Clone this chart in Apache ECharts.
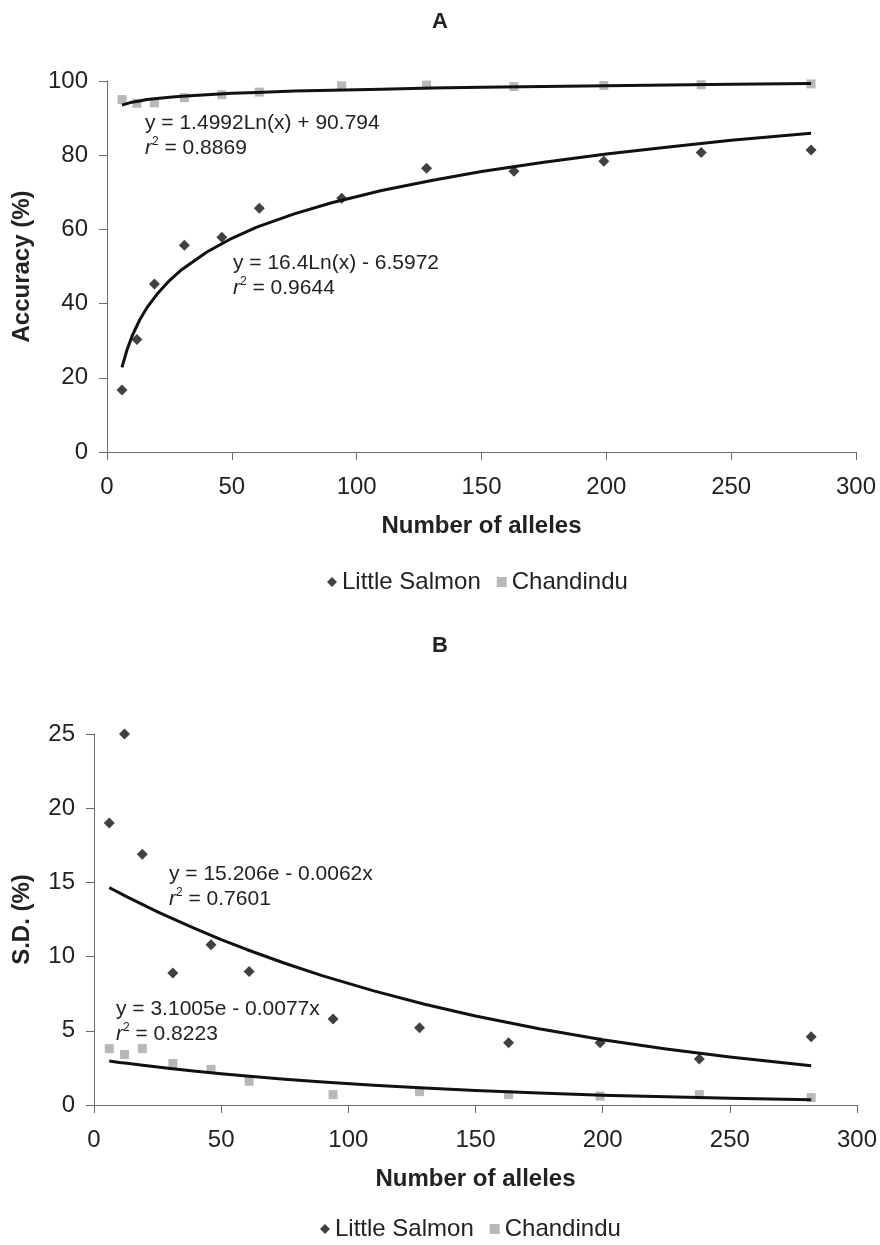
<!DOCTYPE html>
<html>
<head>
<meta charset="utf-8">
<script src="https://cdn.jsdelivr.net/npm/echarts@6/dist/echarts.min.js"></script>
<style>
  html, body { margin: 0; padding: 0; background: #fff; }
  #chart { width: 880px; height: 1245px; }
</style>
</head>
<body>
<div id="chart"></div>
<script>
// number of alleles (x) for both panels
const alleles = [6, 12, 19, 31, 46, 61, 94, 128, 163, 199, 238, 282];

// panel A - accuracy (%)
const accLittleSalmon = [16.7, 30.3, 45.3, 55.7, 57.9, 65.7, 68.4, 76.5, 75.7, 78.4, 80.7, 81.4];
const accChandindu = [95.0, 94.0, 94.1, 95.5, 96.3, 97.0, 98.7, 98.9, 98.5, 98.8, 99.0, 99.2];

// panel B - S.D. (%)
const sdLittleSalmon = [19.0, 25.0, 16.9, 8.9, 10.8, 9.0, 5.8, 5.2, 4.2, 4.2, 3.1, 4.6];
const sdChandindu = [3.8, 3.4, 3.8, 2.8, 2.4, 1.6, 0.7, 0.9, 0.7, 0.6, 0.7, 0.5];

// trend curves at these x
const trendX = [6, 8, 10, 13, 16, 20, 25, 30, 40, 50, 60, 75, 90, 110, 130, 150, 175, 200, 225, 250, 282];
const accLittleTrend = [22.8, 27.5, 31.2, 35.5, 38.9, 42.5, 46.2, 49.2, 53.9, 57.6, 60.6, 64.2, 67.2, 70.5, 73.2, 75.6, 78.1, 80.3, 82.2, 84.0, 85.9];
const accChandTrend = [93.5, 93.9, 94.3, 94.6, 95.0, 95.3, 95.6, 95.9, 96.3, 96.7, 96.9, 97.3, 97.5, 97.8, 98.1, 98.3, 98.5, 98.7, 98.9, 99.1, 99.3];
const sdLittleTrend = [14.65, 14.47, 14.29, 14.03, 13.77, 13.43, 13.02, 12.63, 11.87, 11.15, 10.48, 9.55, 8.70, 7.69, 6.79, 6.00, 5.14, 4.40, 3.77, 3.23, 2.65];
const sdChandTrend = [2.96, 2.92, 2.87, 2.81, 2.74, 2.66, 2.56, 2.46, 2.28, 2.11, 1.95, 1.74, 1.55, 1.33, 1.14, 0.98, 0.81, 0.66, 0.55, 0.45, 0.35];

const xTicks = [0, 50, 100, 150, 200, 250, 300];
const accTicks = [0, 20, 40, 60, 80, 100];
const sdTicks = [0, 5, 10, 15, 20, 25];

const FONT = '"Liberation Sans", Arial, sans-serif';
const TXT = '#222';
const AXIS = '#6b6b6b';

const pairs = (xs, ys) => xs.map((x, i) => [x, ys[i]]);

const xAxisBase = (gridIndex) => ({
  gridIndex,
  type: 'value',
  min: xTicks[0],
  max: xTicks[xTicks.length - 1],
  interval: 50,
  name: 'Number of alleles',
  nameLocation: 'middle',
  nameGap: 62,
  nameTextStyle: { fontFamily: FONT, fontSize: 24, fontWeight: 'bold', color: TXT },
  axisLine: { lineStyle: { color: AXIS, width: 1 } },
  axisTick: { length: 8, lineStyle: { color: AXIS } },
  axisLabel: { fontFamily: FONT, fontSize: 24, color: TXT, margin: 23 },
  splitLine: { show: false }
});

const yAxisBase = (gridIndex, name, ticks, gap) => ({
  gridIndex,
  type: 'value',
  min: ticks[0],
  max: ticks[ticks.length - 1],
  interval: ticks[1] - ticks[0],
  name,
  nameLocation: 'middle',
  nameGap: gap,
  nameTextStyle: { fontFamily: FONT, fontSize: 24, fontWeight: 'bold', color: TXT },
  axisLine: { show: true, lineStyle: { color: AXIS, width: 1 } },
  axisTick: { show: true, length: 8, lineStyle: { color: AXIS } },
  axisLabel: { fontFamily: FONT, fontSize: 24, color: TXT, margin: 19 },
  splitLine: { show: false }
});

const scatter = (name, idx, data, symbol, size, color) => ({
  name,
  type: 'scatter',
  xAxisIndex: idx,
  yAxisIndex: idx,
  symbol,
  symbolSize: size,
  itemStyle: { color },
  data,
  z: 2
});

const trend = (name, idx, data) => ({
  name,
  type: 'line',
  xAxisIndex: idx,
  yAxisIndex: idx,
  data,
  showSymbol: false,
  smooth: false,
  lineStyle: { color: '#111', width: 3, join: 'round' },
  z: 3,
  silent: true
});

const eq = (x, y, line1, r2) => ({
  type: 'group',
  children: [
    {
      type: 'text', x, y,
      style: { text: line1, font: '21px ' + FONT, fill: TXT, verticalAlign: 'middle' }
    },
    {
      type: 'text', x, y: y + 25,
      style: {
        text: '{i|r}{s|2}{t| = ' + r2 + '}',
        verticalAlign: 'middle',
        rich: {
          i: { fontFamily: FONT, fontSize: 21, fontStyle: 'italic', fill: TXT, color: TXT },
          s: { fontFamily: FONT, fontSize: 12, fill: TXT, color: TXT, verticalAlign: 'top', lineHeight: 24 },
          t: { fontFamily: FONT, fontSize: 21, fill: TXT, color: TXT }
        }
      }
    }
  ]
});

const chart = echarts.init(document.getElementById('chart'));
chart.setOption({
  backgroundColor: '#fff',
  animation: false,
  title: [
    { text: 'A', left: 'center', top: 6, textStyle: { fontFamily: FONT, fontSize: 22, fontWeight: 'bold', color: TXT } },
    { text: 'B', left: 'center', top: 630, textStyle: { fontFamily: FONT, fontSize: 22, fontWeight: 'bold', color: TXT } }
  ],
  legend: [
    {
      data: [{ name: 'Little Salmon', icon: 'diamond' }, { name: 'Chandindu', icon: 'rect' }],
      left: 322, top: 565, itemWidth: 10, itemHeight: 10, itemGap: 16,
      textStyle: { fontFamily: FONT, fontSize: 24, color: TXT }
    },
    {
      data: [{ name: 'Little Salmon', icon: 'diamond' }, { name: 'Chandindu', icon: 'rect' }],
      left: 315, top: 1212, itemWidth: 10, itemHeight: 10, itemGap: 16,
      textStyle: { fontFamily: FONT, fontSize: 24, color: TXT }
    }
  ],
  grid: [
    { left: 107, top: 81, width: 749, height: 371 },
    { left: 94, top: 734, width: 763, height: 371 }
  ],
  xAxis: [xAxisBase(0), xAxisBase(1)],
  yAxis: [
    yAxisBase(0, 'Accuracy (%)', accTicks, 73),
    yAxisBase(1, 'S.D. (%)', sdTicks, 60)
  ],
  series: [
    scatter('Chandindu', 0, pairs(alleles, accChandindu), 'rect', 9, '#a6a6a6'),
    scatter('Little Salmon', 0, pairs(alleles, accLittleSalmon), 'diamond', 11, '#111'),
    trend('trend A1', 0, pairs(trendX, accChandTrend)),
    trend('trend A2', 0, pairs(trendX, accLittleTrend)),
    scatter('Chandindu', 1, pairs(alleles, sdChandindu), 'rect', 9, '#a6a6a6'),
    scatter('Little Salmon', 1, pairs(alleles, sdLittleSalmon), 'diamond', 11, '#111'),
    trend('trend B1', 1, pairs(trendX, sdLittleTrend)),
    trend('trend B2', 1, pairs(trendX, sdChandTrend))
  ],
  graphic: [
    eq(145, 123, 'y = 1.4992Ln(x) + 90.794', '0.8869'),
    eq(233, 263, 'y = 16.4Ln(x) - 6.5972', '0.9644'),
    eq(169, 874, 'y = 15.206e - 0.0062x', '0.7601'),
    eq(116, 1009, 'y = 3.1005e - 0.0077x', '0.8223')
  ]
});
</script>
</body>
</html>
